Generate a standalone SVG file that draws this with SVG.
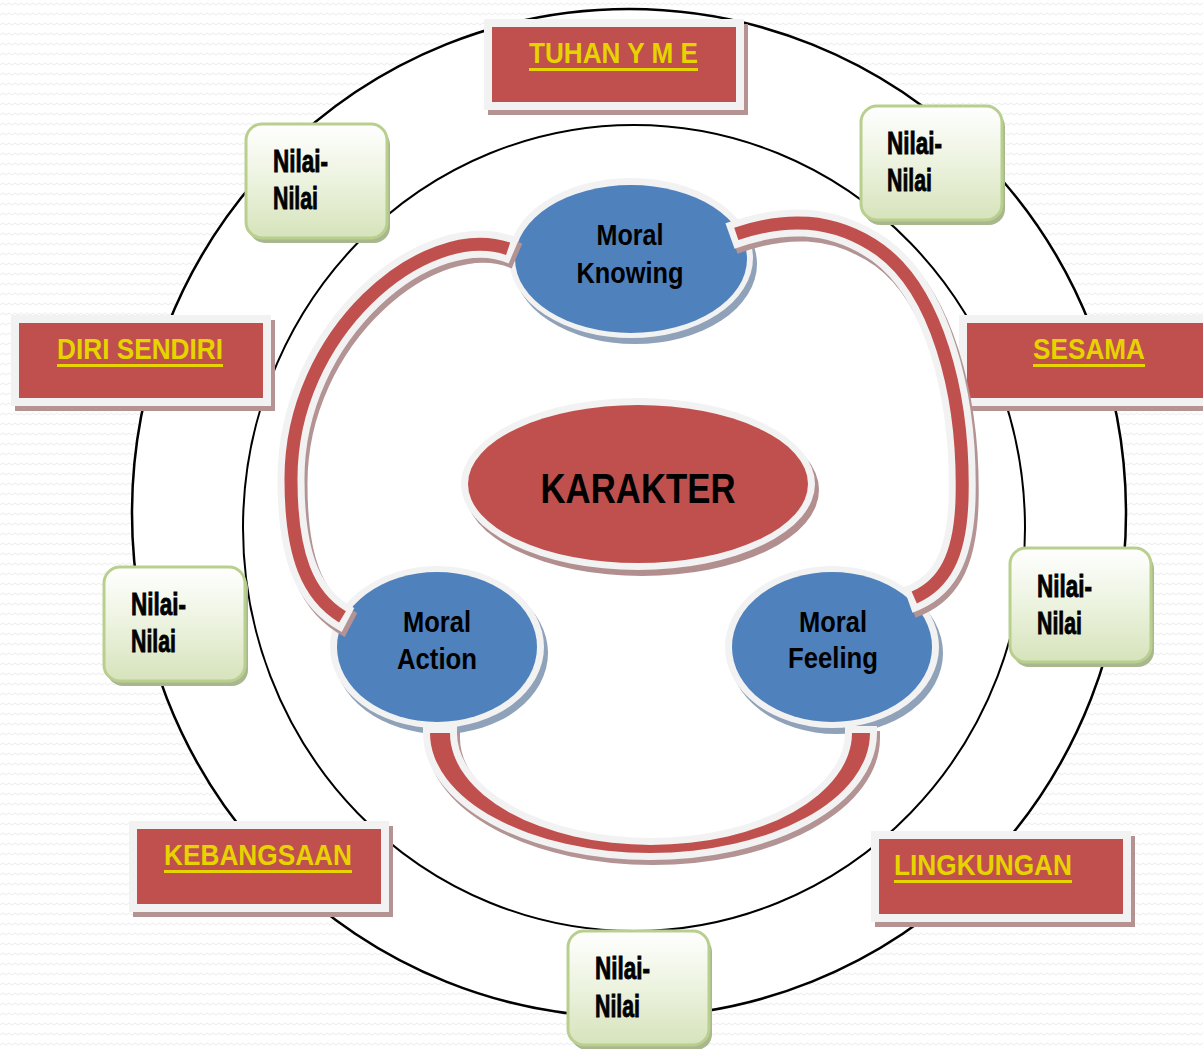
<svg xmlns="http://www.w3.org/2000/svg" width="1203" height="1049" viewBox="0 0 1203 1049">
<defs>
  <pattern id="bgpat" width="12" height="10" patternUnits="userSpaceOnUse">
    <rect width="12" height="10" fill="#ffffff"/>
    <path d="M0 5 L3 3 L6 5 L9 3 L12 5" fill="none" stroke="#ececec" stroke-width="1"/>
  </pattern>
  <linearGradient id="green" x1="0" y1="0" x2="0" y2="1">
    <stop offset="0" stop-color="#ffffff"/>
    <stop offset="0.45" stop-color="#eef4e2"/>
    <stop offset="1" stop-color="#d6e3bb"/>
  </linearGradient>
</defs>
<style>
  .lbl { font-family: "Liberation Sans", Arial, sans-serif; font-weight: bold; fill: #e6d300; font-size: 30px; }
  .ul { fill: #e6d300; }
  .boxsh { fill: #b59393; }
  .boxw { fill: #f2f2f2; }
  .boxr { fill: #c0504d; }
  .nsh { fill: #a9b78f; }
  .nbox { fill: url(#green); stroke: #b8cf8e; stroke-width: 3; }
  .ntxt { font-family: "Liberation Sans", Arial, sans-serif; font-weight: bold; fill: #000; stroke: #000; stroke-width: 0.9; font-size: 32px; }
  .mtxt { font-family: "Liberation Sans", Arial, sans-serif; font-weight: bold; fill: #000; font-size: 30px; text-anchor: middle; }
  .bsh { fill: #8fa2b9; }
  .bw { fill: #f2f2f2; }
  .bb { fill: #4f81bd; }
  .rsh { fill: #b38e8e; }
  .band-sh { fill: none; stroke: #b39393; stroke-width: 27; }
  .band-w { fill: none; stroke: #f2f2f2; stroke-width: 27; }
  .band-r { fill: none; stroke: #c0504d; stroke-width: 13; stroke-dasharray: 0 12 976 12; }
</style>
<rect x="0" y="0" width="1203" height="1049" fill="url(#bgpat)"/>
<g id="rings">
  <ellipse cx="629" cy="513" rx="497" ry="504" fill="#ffffff" stroke="#000" stroke-width="2.5"/>
  <ellipse cx="634" cy="528" rx="391" ry="403" fill="none" stroke="#000" stroke-width="2"/>
</g>

<g id="box-tuhan">
  <rect class="boxsh" x="488" y="24" width="260" height="91"/>
  <rect class="boxw" x="484" y="19" width="260" height="91"/>
  <rect class="boxr" x="492" y="27" width="244" height="75"/>
  <text class="lbl" x="529" y="63" textLength="169" lengthAdjust="spacingAndGlyphs">TUHAN Y M E</text>
  <rect class="ul" x="529" y="68" width="169" height="3"/>
</g>
<g id="box-diri">
  <rect class="boxsh" x="15" y="320" width="260" height="91"/>
  <rect class="boxw" x="11" y="315" width="260" height="91"/>
  <rect class="boxr" x="19" y="323" width="244" height="75"/>
  <text class="lbl" x="57" y="359" textLength="166" lengthAdjust="spacingAndGlyphs">DIRI SENDIRI</text>
  <rect class="ul" x="57" y="364" width="166" height="3"/>
</g>
<g id="box-sesama">
  <rect class="boxsh" x="963" y="320" width="260" height="91"/>
  <rect class="boxw" x="959" y="315" width="260" height="91"/>
  <rect class="boxr" x="967" y="323" width="244" height="75"/>
  <text class="lbl" x="1033" y="359" textLength="112" lengthAdjust="spacingAndGlyphs">SESAMA</text>
  <rect class="ul" x="1033" y="364" width="112" height="3"/>
</g>
<g id="box-kebangsaan">
  <rect class="boxsh" x="133" y="826" width="260" height="91"/>
  <rect class="boxw" x="129" y="821" width="260" height="91"/>
  <rect class="boxr" x="137" y="829" width="244" height="75"/>
  <text class="lbl" x="164" y="865" textLength="188" lengthAdjust="spacingAndGlyphs">KEBANGSAAN</text>
  <rect class="ul" x="164" y="870" width="188" height="3"/>
</g>
<g id="box-lingkungan">
  <rect class="boxsh" x="875" y="836" width="260" height="91"/>
  <rect class="boxw" x="871" y="831" width="260" height="91"/>
  <rect class="boxr" x="879" y="839" width="244" height="75"/>
  <text class="lbl" x="894" y="875" textLength="178" lengthAdjust="spacingAndGlyphs">LINGKUNGAN</text>
  <rect class="ul" x="894" y="880" width="178" height="3"/>
</g>

<g id="nilai-1">
  <rect class="nsh" x="249" y="129" width="141" height="114" rx="16"/>
  <rect class="nbox" x="246" y="124" width="141" height="114" rx="16"/>
  <text class="ntxt" x="273" y="172" textLength="55" lengthAdjust="spacingAndGlyphs">Nilai-</text>
  <text class="ntxt" x="273" y="209" textLength="45" lengthAdjust="spacingAndGlyphs">Nilai</text>
</g>
<g id="nilai-2">
  <rect class="nsh" x="864" y="111" width="141" height="114" rx="16"/>
  <rect class="nbox" x="861" y="106" width="141" height="114" rx="16"/>
  <text class="ntxt" x="887" y="154" textLength="55" lengthAdjust="spacingAndGlyphs">Nilai-</text>
  <text class="ntxt" x="887" y="191" textLength="45" lengthAdjust="spacingAndGlyphs">Nilai</text>
</g>
<g id="nilai-3">
  <rect class="nsh" x="107" y="572" width="141" height="114" rx="16"/>
  <rect class="nbox" x="104" y="567" width="141" height="114" rx="16"/>
  <text class="ntxt" x="131" y="615" textLength="55" lengthAdjust="spacingAndGlyphs">Nilai-</text>
  <text class="ntxt" x="131" y="652" textLength="45" lengthAdjust="spacingAndGlyphs">Nilai</text>
</g>
<g id="nilai-4">
  <rect class="nsh" x="1013" y="553" width="141" height="114" rx="16"/>
  <rect class="nbox" x="1010" y="548" width="141" height="114" rx="16"/>
  <text class="ntxt" x="1037" y="597" textLength="55" lengthAdjust="spacingAndGlyphs">Nilai-</text>
  <text class="ntxt" x="1037" y="634" textLength="45" lengthAdjust="spacingAndGlyphs">Nilai</text>
</g>
<g id="nilai-5">
  <rect class="nsh" x="571" y="936" width="141" height="114" rx="16"/>
  <rect class="nbox" x="568" y="931" width="141" height="114" rx="16"/>
  <text class="ntxt" x="595" y="979" textLength="55" lengthAdjust="spacingAndGlyphs">Nilai-</text>
  <text class="ntxt" x="595" y="1017" textLength="45" lengthAdjust="spacingAndGlyphs">Nilai</text>
</g>

<g id="karakter">
  <ellipse class="rsh" cx="642" cy="490" rx="177" ry="86"/>
  <ellipse class="bw" cx="638" cy="484" rx="177" ry="86"/>
  <ellipse class="boxr" cx="638" cy="484" rx="170" ry="79"/>
  <text class="mtxt" x="638" y="503" style="font-size:42px" textLength="195" lengthAdjust="spacingAndGlyphs">KARAKTER</text>
</g>
<g id="moral-knowing">
  <ellipse class="bsh" cx="635" cy="264" rx="122" ry="80"/>
  <ellipse class="bw" cx="631" cy="258" rx="122" ry="80"/>
  <ellipse class="bb" cx="631" cy="259" rx="116" ry="74"/>
  <text class="mtxt" x="630" y="245" textLength="67" lengthAdjust="spacingAndGlyphs">Moral</text>
  <text class="mtxt" x="630" y="283" textLength="107" lengthAdjust="spacingAndGlyphs">Knowing</text>
</g>
<g id="moral-action">
  <ellipse class="bsh" cx="441" cy="653" rx="107" ry="81"/>
  <ellipse class="bw" cx="437" cy="647" rx="107" ry="81"/>
  <ellipse class="bb" cx="437" cy="647" rx="100" ry="75"/>
  <text class="mtxt" x="437" y="632" textLength="68" lengthAdjust="spacingAndGlyphs">Moral</text>
  <text class="mtxt" x="437" y="669" textLength="80" lengthAdjust="spacingAndGlyphs">Action</text>
</g>
<g id="moral-feeling">
  <ellipse class="bsh" cx="836" cy="653" rx="107" ry="81"/>
  <ellipse class="bw" cx="832" cy="647" rx="107" ry="81"/>
  <ellipse class="bb" cx="832" cy="647" rx="100" ry="75"/>
  <text class="mtxt" x="833" y="632" textLength="68" lengthAdjust="spacingAndGlyphs">Moral</text>
  <text class="mtxt" x="833" y="668" textLength="90" lengthAdjust="spacingAndGlyphs">Feeling</text>
</g>

<g id="connectors">
  <g id="conn-knowing-action">
    <path class="band-sh" transform="translate(3,5)" d="M 514 251 C 430 215, 290 330, 291 480 C 291 560, 310 600, 348 620"/>
    <path class="band-w" d="M 514 251 C 430 215, 290 330, 291 480 C 291 560, 310 600, 348 620"/>
    <path class="band-r" pathLength="1000" d="M 514 251 C 430 215, 290 330, 291 480 C 291 560, 310 600, 348 620"/>
  </g>
  <g id="conn-knowing-feeling">
    <path class="band-sh" transform="translate(3,5)" d="M 730 236 C 780 218, 830 215, 880 250 C 935 290, 965 390, 962 500 C 960 560, 942 588, 908 600"/>
    <path class="band-w" d="M 730 236 C 780 218, 830 215, 880 250 C 935 290, 965 390, 962 500 C 960 560, 942 588, 908 600"/>
    <path class="band-r" pathLength="1000" d="M 730 236 C 780 218, 830 215, 880 250 C 935 290, 965 390, 962 500 C 960 560, 942 588, 908 600"/>
  </g>
  <g id="conn-action-feeling">
    <path transform="translate(3,5)" fill="#b39393" stroke="#b39393" stroke-width="14" stroke-linejoin="miter" d="M 430 733 A 220 120 0 0 0 870 733 L 852 733 A 201 112 0 0 1 450 733 Z"/>
    <path fill="#c0504d" stroke="#f2f2f2" stroke-width="14" paint-order="stroke" stroke-linejoin="miter" d="M 430 733 A 220 120 0 0 0 870 733 L 852 733 A 201 112 0 0 1 450 733 Z"/>
  </g>
</g>
</svg>
